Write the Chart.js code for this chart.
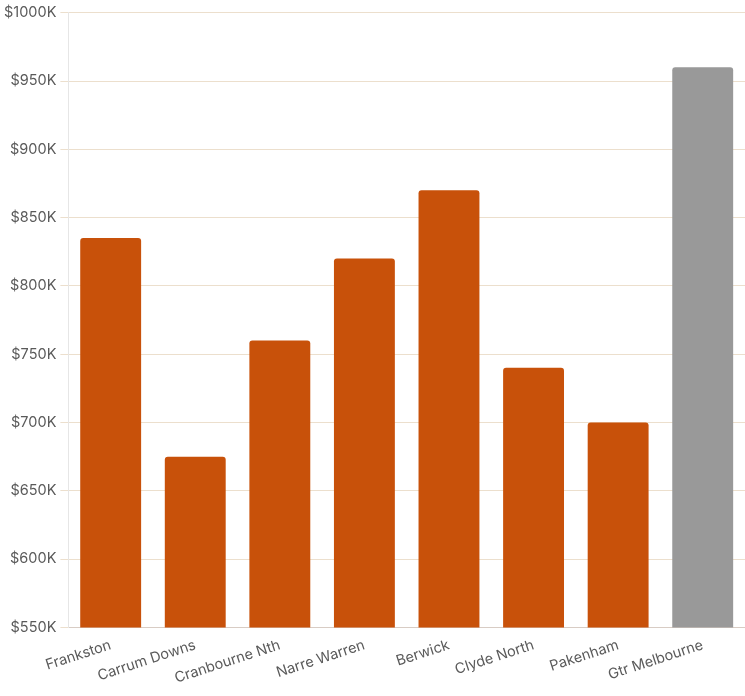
<!DOCTYPE html>
<html>
<head>
<meta charset="utf-8">
<script src="https://cdn.jsdelivr.net/npm/chart.js@4"></script>
<style>
  html, body { margin: 0; padding: 0; background: #ffffff; }
  #wrap { width: 745px; height: 696px; }
</style>
</head>
<body>
<div id="wrap"><canvas id="chart"></canvas></div>
<script>
const suburbs = ['Frankston', 'Carrum Downs', 'Cranbourne Nth', 'Narre Warren', 'Berwick', 'Clyde North', 'Pakenham', 'Gtr Melbourne'];
const medianPrices = [835, 675, 760, 820, 870, 740, 700, 960];
const barColors = ['#c8510a', '#c8510a', '#c8510a', '#c8510a', '#c8510a', '#c8510a', '#c8510a', '#999999'];
const yMin = 550;
const yMax = 1000;
const yStep = 50;

Chart.defaults.font.family = 'Inter, "Noto Sans", sans-serif';
Chart.defaults.font.size = 14.5;
Chart.defaults.color = '#5a5a5a';

new Chart(document.querySelector('#chart'), {
  type: 'bar',
  data: {
    labels: suburbs,
    datasets: [{
      data: medianPrices,
      backgroundColor: barColors,
      borderRadius: 3,
      borderSkipped: 'bottom',
    }],
  },
  options: {
    responsive: true,
    maintainAspectRatio: false,
    animation: false,
    layout: { padding: { top: 6, right: 0, left: 0, bottom: 0 } },
    plugins: {
      legend: { display: false },
      tooltip: { enabled: false },
    },
    scales: {
      x: {
        grid: { display: false, drawTicks: false },
        border: { color: '#d8ccc4' },
        ticks: { minRotation: 18, maxRotation: 18, padding: 9, autoSkip: false },
      },
      y: {
        min: yMin,
        max: yMax,
        grid: { color: '#ecdfcd', tickLength: 8 },
        border: { color: '#e6e6e6' },
        ticks: {
          stepSize: yStep,
          padding: 4,
          callback: (value) => `$${value}K`,
        },
      },
    },
  },
});
</script>
</body>
</html>
